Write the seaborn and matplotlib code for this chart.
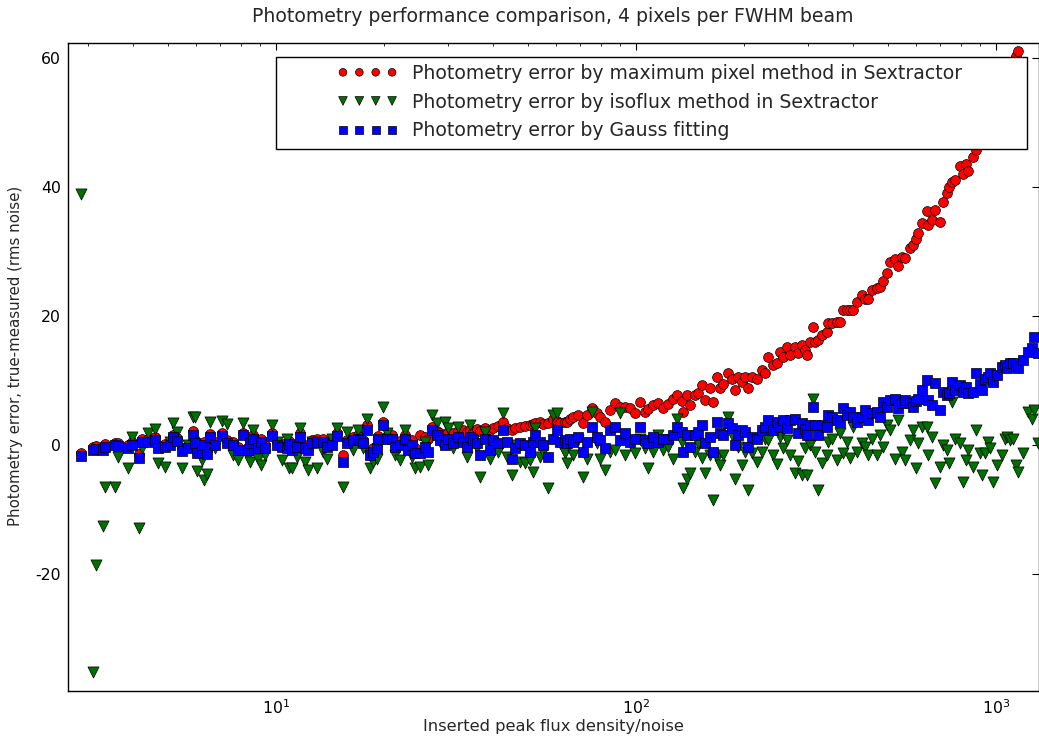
import matplotlib
matplotlib.use("Agg")
import matplotlib.pyplot as plt
from matplotlib.patches import Rectangle
import pandas as pd
import seaborn as sns

# Inserted peak flux density / noise (shared by the three methods)
flux = [2.87, 3.10, 3.16, 3.31, 3.35, 3.57, 3.64, 3.88, 3.98, 4.16,
        4.24, 4.41, 4.61, 4.70, 4.92, 5.08, 5.17, 5.31, 5.48, 5.70,
        5.88, 5.95, 6.03, 6.23, 6.31, 6.43, 6.56, 6.77, 7.08, 7.31,
        7.60, 7.84, 8.10, 8.36, 8.47, 8.63, 8.91, 9.09, 9.32, 9.75,
        10.06, 10.39, 10.73, 10.87, 11.08, 11.44, 11.66, 12.04, 12.27, 12.59,
        13.00, 13.51, 13.86, 14.31, 14.77, 15.35, 15.75, 16.36, 16.90, 17.11,
        17.45, 17.90, 18.24, 18.60, 19.08, 19.20, 19.83, 20.34, 21.00, 21.41,
        22.11, 22.82, 23.26, 23.87, 24.33, 25.12, 25.94, 26.44, 27.12, 28.01,
        28.55, 29.47, 30.05, 31.03, 32.03, 33.07, 33.93, 34.59, 35.26, 36.17,
        36.87, 38.07, 39.31, 40.07, 41.37, 42.71, 43.82, 45.24, 46.12, 47.62,
        49.17, 50.77, 51.75, 52.41, 54.12, 55.17, 56.96, 58.81, 60.33, 61.51,
        63.50, 64.32, 65.56, 66.84, 69.01, 71.25, 73.10, 75.47, 77.93, 79.43,
        82.02, 84.68, 87.44, 90.27, 93.21, 96.24, 99.37, 102.6, 105.9, 108.0,
        111.5, 115.1, 118.9, 122.7, 126.7, 130.0, 134.2, 135.1, 138.6, 141.3,
        145.8, 148.7, 152.5, 155.5, 160.5, 163.6, 167.9, 171.1, 174.5, 180.1,
        184.8, 188.4, 192.0, 197.0, 200.8, 204.7, 210.0, 216.8, 223.9, 228.2,
        232.6, 240.2, 246.4, 251.2, 256.1, 262.7, 267.8, 276.5, 281.8, 289.1,
        294.8, 298.6, 304.3, 310.3, 314.3, 320.3, 328.6, 339.3, 341.5, 350.3,
        361.7, 368.7, 375.8, 385.6, 393.1, 400.7, 411.0, 424.4, 432.7, 441.1,
        452.4, 467.1, 476.2, 485.4, 498.0, 507.7, 524.1, 534.3, 548.2, 558.8,
        576.9, 588.1, 599.5, 607.2, 623.0, 643.2, 647.3, 664.1, 677.0, 699.0,
        712.5, 731.0, 740.4, 754.7, 769.4, 794.3, 809.7, 825.4, 836.0, 863.3,
        880.0, 902.7, 914.3, 932.1, 950.2, 962.4, 981.1, 1006.4, 1039.1, 1059.3,
        1072.9, 1093.8, 1115.0, 1136.5, 1151.1, 1188.5, 1227.2, 1258.9, 1275.1, 1308.1]

# Photometry error (true - measured, rms noise): maximum pixel method
err_maxpix = [-1.2, -0.3, -0.2, -0.3, 0.2, 0.4, 0.4, 0.0, 0.5, -1.4,
              1.0, 0.9, 1.2, 0.0, 0.2, 0.5, 1.6, 1.1, -0.4, 0.0,
              2.2, 0.8, -0.8, -0.5, 0.5, -0.9, 1.7, 0.5, 1.8, 0.8,
              0.5, -0.3, 1.9, -0.3, 0.8, 1.5, 0.0, 1.0, 0.0, 1.9,
              0.5, 0.2, 0.0, 0.7, -0.3, 0.2, 1.8, 0.0, -0.3, 0.8,
              1.0, 1.0, 0.2, 0.5, 1.9, -1.5, 0.8, 1.3, 1.5, 1.3,
              0.8, 3.1, -1.0, -0.5, 0.0, 1.4, 3.6, 1.4, 1.5, 0.3,
              0.6, 1.6, -0.2, 0.8, -0.4, 1.6, 1.2, 1.0, 2.8, 2.2,
              1.8, 1.5, 2.0, 1.9, 2.2, 2.3, 2.0, 2.4, 2.1, 2.5,
              2.2, 2.6, 2.3, 2.6, 2.9, 3.6, 2.7, 2.3, 2.6, 2.8,
              3.0, 3.1, 3.2, 3.4, 3.6, 3.2, 3.4, 4.1, 3.8, 3.5,
              3.6, 3.6, 4.0, 4.3, 4.7, 3.4, 4.7, 5.7, 4.9, 4.4,
              3.6, 5.4, 6.5, 5.9, 5.9, 5.7, 4.9, 6.7, 5.2, 5.6,
              6.2, 6.5, 5.7, 6.3, 7.2, 7.8, 6.8, 5.2, 7.8, 6.2,
              7.8, 8.0, 9.3, 7.0, 8.8, 6.7, 10.6, 8.8, 9.5, 11.1,
              10.3, 8.5, 10.6, 9.8, 10.6, 8.8, 10.6, 10.3, 11.6, 11.1,
              13.7, 12.4, 12.7, 14.5, 13.7, 15.2, 14.0, 15.2, 14.2, 15.5,
              14.8, 14.0, 15.9, 18.3, 16.0, 16.3, 17.1, 17.5, 18.9, 18.9,
              19.1, 19.1, 20.9, 21.0, 21.0, 20.9, 22.2, 23.3, 22.7, 22.7,
              24.0, 24.3, 24.5, 25.5, 26.6, 28.4, 28.9, 27.8, 29.2, 29.0,
              30.5, 31.0, 32.0, 32.8, 34.4, 36.2, 34.1, 34.9, 36.5, 34.5,
              37.6, 39.0, 40.0, 40.8, 41.1, 43.2, 42.0, 43.5, 42.5, 44.7,
              45.7, 47.0, 48.0, 49.0, 50.0, 51.0, 52.0, 54.0, 55.0, 57.0,
              57.5, 58.0, 59.5, 60.3, 61.0, 63.0, 65.0, 66.0, 67.0, 69.0]

# Photometry error: isoflux method
err_isoflux = [38.9, -35.2, -18.6, -12.6, -6.5, -6.5, -1.9, -3.6, 1.3, -12.9,
               -0.5, 1.9, 2.5, -2.8, -3.4, 0.5, 3.5, 2.0, -3.6, 0.0,
               4.3, 4.3, -4.0, -2.3, -5.4, -4.5, 3.6, -0.5, 3.8, 3.3,
               -1.5, -2.3, 3.5, -1.8, -2.6, 2.4, -2.1, -3.1, -1.5, 3.1,
               0.5, -2.3, 1.0, -3.6, -3.6, -1.8, 2.6, -2.6, -3.9, 0.5,
               -3.6, -1.0, -2.2, 1.0, 2.7, -6.5, 2.0, -0.8, 2.3, 0.5,
               -0.5, 4.0, -3.6, -2.6, -2.1, 0.2, 5.9, 1.8, 0.5, -1.6,
               -2.3, 2.4, -0.5, -1.8, -3.6, -3.4, 0.5, -3.1, 4.7, 3.4,
               0.5, 3.6, 2.6, -0.5, 2.8, 0.3, -1.9, 3.1, 0.8, -0.5,
               -4.9, 2.1, -2.1, 0.3, -1.0, 4.9, -1.8, -4.7, 0.0, -2.6,
               -2.8, -2.3, -4.1, 2.6, -1.8, -1.0, -6.7, 4.7, 4.9, 0.3,
               -1.3, -2.8, 0.5, -1.6, 0.8, -4.9, -2.1, 5.2, 0.3, -2.1,
               -3.9, -1.0, -0.8, 4.9, -1.6, 0.5, -1.3, 1.0, -0.5, -3.6,
               -1.0, 1.5, -0.8, -0.3, -2.1, 4.1, 0.5, -6.7, -5.2, -4.4,
               -1.0, 0.3, -2.0, -4.4, -1.5, -8.5, -2.0, -3.1, -1.6, 4.4,
               1.6, -5.3, -0.3, -3.1, -1.0, -7.0, -1.3, -2.6, -1.0, 1.0,
               0.8, -1.6, -3.0, 1.3, -0.5, 0.8, -1.6, -4.4, -2.5, -4.7,
               -0.5, -4.7, 0.0, 7.2, -1.0, -7.0, -2.8, -1.5, 0.5, 1.0,
               -2.3, 1.8, -1.3, 0.5, -2.0, 2.8, -1.0, 0.3, -0.3, -1.6,
               1.0, -1.6, 1.6, -0.3, 3.1, 2.3, -2.1, 3.9, -1.0, -2.3,
               0.8, 2.3, -3.6, 0.3, 2.8, 2.8, -1.5, 1.3, -5.9, -3.4,
               0.0, -0.8, -2.8, 6.7, 1.0, 0.3, -5.7, -2.3, -0.8, -3.4,
               2.3, -1.3, -4.6, -1.3, 0.5, -0.5, -5.7, -3.1, -1.6, 1.0,
               1.3, 0.8, 1.0, -3.1, -4.1, -1.3, 5.2, 4.1, 5.4, 0.3]

# Photometry error: Gauss fitting
err_gauss = [-1.7, -0.8, -0.6, -0.8, -0.3, 0.0, -0.1, -0.5, 0.0, -2.0,
             0.5, 0.5, 0.8, -0.5, -0.3, 0.0, 1.2, 0.7, -0.9, -0.5,
             1.5, 0.3, -1.3, -1.0, 0.0, -1.4, 1.3, 0.0, 1.4, 0.3,
             0.0, -0.8, 1.5, -0.8, 0.3, 1.0, -0.5, 0.5, -0.5, 1.4,
             0.0, -0.3, -0.5, 0.2, -0.8, -0.3, 1.3, -0.5, -0.8, 0.3,
             0.5, 0.5, -0.3, 0.0, 1.4, -2.6, 0.3, 0.8, 1.0, 0.8,
             0.3, 2.3, -1.5, -1.0, -0.5, 0.9, 3.1, 0.9, 1.0, -0.3,
             0.0, 1.0, -0.8, 0.0, -1.2, -1.2, -0.3, -1.0, 2.3, 1.5,
             0.8, 0.0, 1.0, 0.3, 1.3, 0.5, -0.3, 1.3, 0.8, 0.3,
             -1.5, 1.0, -0.8, 0.8, 0.3, 2.3, 0.5, -2.1, -0.5, 0.3,
             0.0, -1.0, 0.5, 1.5, 0.5, 0.0, -1.8, 1.0, 2.3, 0.5,
             0.8, 0.3, 1.0, 0.5, 1.3, -1.0, 0.5, 2.8, 1.3, 0.8,
             -0.5, 2.3, 2.8, 0.8, 1.8, 0.5, 1.0, 2.8, 0.8, 0.3,
             1.3, 0.5, 1.0, 1.0, 1.5, 2.8, 2.0, -1.0, 1.6, -0.3,
             1.6, 2.1, 3.1, 0.3, 1.3, -1.0, 3.6, 1.8, 1.6, 3.4,
             2.6, 0.0, 1.6, 2.3, 2.1, -0.3, 1.3, 1.0, 2.3, 2.8,
             3.9, 2.3, 3.6, 2.8, 3.9, 2.6, 3.9, 4.1, 1.8, 3.4,
             2.5, 1.6, 3.1, 5.9, 3.1, 1.6, 3.1, 2.8, 4.7, 4.4,
             3.9, 3.6, 5.7, 4.7, 5.2, 4.4, 3.6, 4.4, 5.4, 3.9,
             4.9, 5.2, 4.4, 6.7, 5.9, 7.0, 7.2, 5.7, 6.5, 7.0,
             6.5, 5.9, 6.8, 7.2, 8.5, 10.1, 7.0, 6.2, 9.6, 5.4,
             8.3, 7.8, 8.0, 9.8, 8.5, 9.3, 8.3, 9.0, 8.0, 8.3,
             11.1, 9.5, 8.5, 10.3, 10.5, 11.1, 9.8, 10.9, 12.1, 12.4,
             12.0, 12.7, 12.7, 12.3, 11.9, 13.2, 14.5, 15.0, 16.7, 14.2]

labels = ["Photometry error by maximum pixel method in Sextractor",
          "Photometry error by isoflux method in Sextractor",
          "Photometry error by Gauss fitting"]

title = "Photometry performance comparison, 4 pixels per FWHM beam"
xlabel = "Inserted peak flux density/noise"
ylabel = "Photometry error, true-measured (rms noise)"
yticks = [-20, 0, 20, 40, 60]

df = pd.DataFrame({"flux": flux, "maxpix": err_maxpix,
                   "isoflux": err_isoflux, "gauss": err_gauss})

sns.set_style("white")
plt.rcParams["font.family"] = ["DejaVu Sans"]
plt.rcParams["axes.unicode_minus"] = False

fig = plt.figure(figsize=(10.39, 7.36), dpi=100)
ax = fig.add_axes([68 / 1039, 45 / 736, 970.5 / 1039, 648 / 736])

common = dict(edgecolor="black", linewidth=0.5, legend=False, ax=ax)
sns.scatterplot(data=df, x="flux", y="maxpix", marker="o", s=50,
                color="#ff0000", label=labels[0], **common)
sns.scatterplot(data=df, x="flux", y="isoflux", marker="v", s=64,
                color="#007000", label=labels[1], **common)
sns.scatterplot(data=df, x="flux", y="gauss", marker="s", s=54,
                color="#0000ff", label=labels[2], **common)

ax.set_xscale("log")
ax.set_xlim(2.643, 1312)
ax.set_ylim(-38.1, 62.3)
ax.set_yticks(yticks)
ax.set_yticklabels([str(v) for v in yticks])

for sp in ax.spines.values():
    sp.set_visible(True)
    sp.set_color("black")
    sp.set_linewidth(1.0)

ax.tick_params(which="both", direction="in", top=True, right=True,
               colors="black", labelsize=11.3)
ax.tick_params(which="major", length=5, width=0.8, pad=5)
ax.tick_params(which="minor", length=2.5, width=0.6)
ax.tick_params(axis="y", which="minor", left=False, right=False)

ax.set_title(title, fontsize=13.6, pad=15)
ax.set_xlabel(xlabel, fontsize=11.7, labelpad=2)
ax.set_ylabel(ylabel, fontsize=10.8)
ax.yaxis.set_label_coords(-0.046, 0.517)

# legend frame
ax.add_patch(Rectangle((0.2143, 0.8364), 0.9882 - 0.2143, 0.9784 - 0.8364,
                       transform=ax.transAxes, facecolor="white",
                       edgecolor="black", linewidth=1.0, zorder=4))
leg = ax.legend(loc="upper left", bbox_to_anchor=(0.2775, 0.9677),
                frameon=False, scatterpoints=4, scatteryoffsets=[0.5],
                handlelength=3.2, handletextpad=0.75, labelspacing=0.51,
                markerscale=0.78, fontsize=13.6, borderpad=0, borderaxespad=0)
leg.set_zorder(5)

fig.savefig("out.png", dpi=100)
